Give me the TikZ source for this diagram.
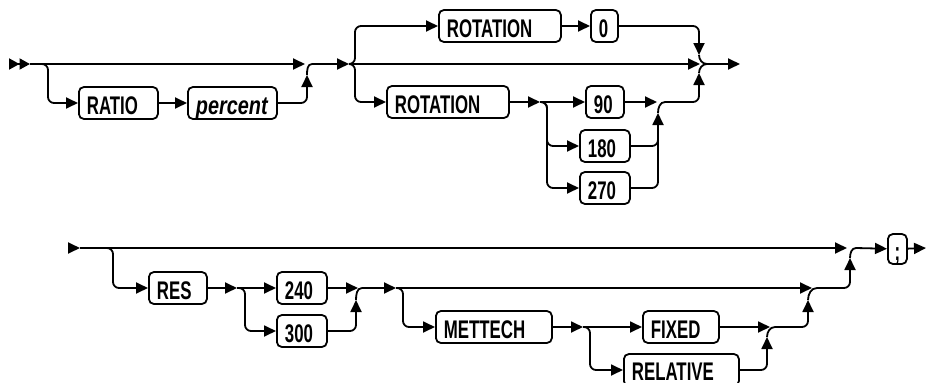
\documentclass[tikz,border=0pt]{standalone}
\usepackage{fontspec}
\setmainfont[FakeStretch=0.66]{Liberation Sans}
\newfontfamily\argfont[FakeStretch=0.78]{Liberation Sans}
\usetikzlibrary{arrows.meta, positioning}

\begin{document}
\begin{tikzpicture}[x=1pt, y=-1pt, line width=1.8pt, rounded corners=6pt,
        kw/.style={draw, rounded corners=5pt, minimum height=32pt, inner xsep=8pt, inner ysep=0pt,
            text height=23pt, text depth=0pt,
            anchor=west, align=left, font=\fontsize{25.5}{26}\selectfont\bfseries},
        arg/.style={kw, font=\fontsize{25.5}{26}\selectfont\argfont\bfseries\itshape},
        tip/.style={-{Triangle[length=12pt, width=11pt]}}]
        \useasboundingbox (0, 0) rectangle (927, 383);

        % first line
        \coordinate (st1) at (9, 64);
        \coordinate (in1) at (30, 64);
        \coordinate (j1) at (312, 64);
        \coordinate (a1) at (349, 64);
        \coordinate (b1) at (355, 64);
        \coordinate (j2) at (707, 64);
        \coordinate (out1) at (740, 64);

        \node[kw, text width=63pt] (ratio) at (78, 103) {RATIO};
        \node[arg, text width=73pt] (percent) at (187, 103) {percent};
        \node[kw, text width=106pt] (rotA) at (438, 26) {ROTATION};
        \node[kw, text width=11pt] (zero) at (590, 26) {0};
        \node[kw, text width=106pt] (rotB) at (386, 102) {ROTATION};
        \coordinate (a3) at (540, 102);
        \coordinate (b3) at (547, 102);
        \coordinate (j3) at (665, 102);
        \node[kw, text width=22pt] (n90) at (585, 102) {90};
        \node[kw, text width=34pt] (n180) at (579, 146) {180};
        \node[kw, text width=34pt] (n270) at (579, 188) {270};

        \draw[-{Triangle[length=10.5pt, width=11pt]Triangle[length=10.5pt, width=11pt]}] (st1) -- (in1);
        \draw[tip] (in1) -- ([xshift=-7pt]j1);
        \draw[tip] (in1) -| ([xshift=-30pt]ratio.west) -- (ratio);
        \draw[tip] (ratio) -- (percent);
        \draw[tip] (percent) -| ([xshift=-5pt, yshift=-11pt]j1);
        \draw ([xshift=-5pt, yshift=-11pt]j1) to[out=90, in=180] (j1);

        \draw[tip] (j1) -- (a1);
        \draw[tip] (a1) -- ([xshift=-7pt]j2);
        \draw[tip] (a1) -| (b1 |- rotA) -- (rotA);
        \draw[tip] (rotA) -- (zero);
        \draw[tip] (zero) -| ([xshift=-8pt, yshift=9pt]j2);
        \draw ([xshift=-8pt, yshift=9pt]j2) to[out=-90, in=180] (j2);
        \draw[tip] (a1) -| (b1 |- rotB) -- (rotB);
        \draw[tip] (rotB) -- (a3);
        \draw[tip] (a3) -- (n90);
        \draw[tip] (a3) -| (b3 |- n180) -- (n180);
        \draw[tip] (a3) -| (b3 |- n270) -- (n270);
        \draw[tip] (n90) -- ([xshift=-8pt]j3);
        \draw (n180) -| ([xshift=-7pt, yshift=-20pt]j3);
        \draw[tip] (n270) -| ([xshift=-7pt, yshift=-11pt]j3);
        \draw ([xshift=-7pt, yshift=-11pt]j3) to[out=90, in=180] (j3);
        \draw[tip] (j3) -| ([xshift=-8pt, yshift=-9pt]j2);
        \draw ([xshift=-8pt, yshift=-9pt]j2) to[out=90, in=180] (j2);
        \draw[tip] (j2) -- (out1);

        % second line
        \coordinate (st2) at (68, 248);
        \coordinate (in2) at (80, 248);
        \coordinate (j8) at (856, 248);
        \coordinate (out2) at (926, 248);
        \coordinate (a5) at (237, 288);
        \coordinate (b5) at (245, 288);
        \coordinate (j5) at (362, 288);
        \coordinate (a6) at (396, 288);
        \coordinate (b6) at (403, 288);
        \coordinate (j6) at (817, 288);
        \coordinate (a7) at (583, 327);
        \coordinate (b7) at (590, 327);
        \coordinate (j7) at (775, 327);

        \node[kw, text width=42pt] (res) at (148, 288) {RES};
        \node[kw, text width=34pt] (n240) at (276, 288) {240};
        \node[kw, text width=34pt] (n300) at (276, 331) {300};
        \node[kw, text width=100pt] (mettech) at (435, 327) {METTECH};
        \node[kw, text width=60pt] (fixed) at (642, 327) {FIXED};
        \node[kw, text width=99pt, text height=20pt] (relative) at (623, 370) {RELATIVE};
        \node[kw, inner xsep=2pt, text width=15pt, align=center, minimum height=30pt] (semi) at (887, 249) {;};

        \draw[tip] (st2) -- (in2);
        \draw[tip] (in2) -- ([xshift=-9pt]j8);
        \draw[tip] (in2) -| ([xshift=-35pt]res.west) -- (res);
        \draw[tip] (res) -- (a5);
        \draw[tip] (a5) -- (n240);
        \draw[tip] (a5) -| (b5 |- n300) -- (n300);
        \draw[tip] (n240) -- ([xshift=-4pt]j5);
        \draw[tip] (n300) -| ([xshift=-6pt, yshift=-12pt]j5);
        \draw ([xshift=-6pt, yshift=-12pt]j5) to[out=90, in=180] (j5);
        \draw[tip] (j5) -- (a6);
        \draw[tip] (a6) -- ([xshift=-5pt]j6);
        \draw[tip] (a6) -| (b6 |- mettech) -- (mettech);
        \draw[tip] (mettech) -- (a7);
        \draw[tip] (a7) -- (fixed);
        \draw[tip] (a7) -| (b7 |- relative) -- (relative);
        \draw[tip] (fixed) -- ([xshift=-5pt]j7);
        \draw[tip] (relative) -| ([xshift=-8pt, yshift=-10pt]j7);
        \draw ([xshift=-8pt, yshift=-10pt]j7) to[out=90, in=180] (j7);
        \draw[tip] (j7) -| ([xshift=-9pt, yshift=-12pt]j6);
        \draw ([xshift=-9pt, yshift=-12pt]j6) to[out=90, in=180] (j6);
        \draw[tip] (j6) -| ([xshift=-6pt, yshift=-10pt]j8);
        \draw ([xshift=-6pt, yshift=-10pt]j8) to[out=90, in=180] (j8);
        \draw[tip] (j8) -- (semi);
        \draw[tip] (semi) -- (out2);
    \end{tikzpicture}
\end{document}
